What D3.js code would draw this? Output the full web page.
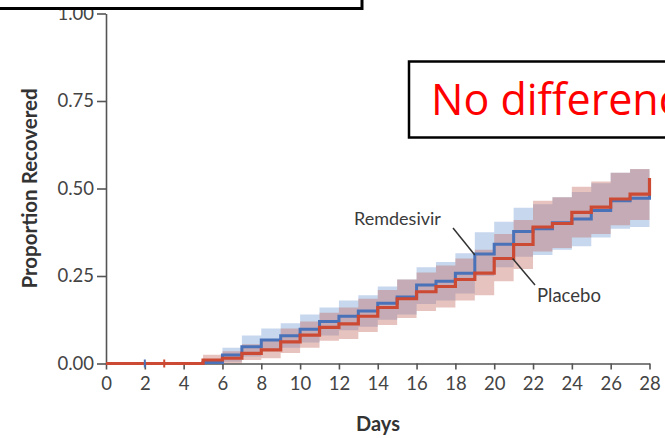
<!DOCTYPE html>
<html><head><meta charset="utf-8">
<script src="https://cdn.jsdelivr.net/npm/d3@7"></script>
<style>
html,body{margin:0;padding:0;background:#fff;overflow:hidden;}
svg{display:block;}
</style></head>
<body>
<svg id="c" width="665" height="438"></svg>
<script>
// ---- data ----
const days = [0,1,2,3,4,5,6,7,8,9,10,11,12,13,14,15,16,17,18,19,20,21,22,23,24,25,26,27];
const remdesivir = [0,0,0,0,0,0.003,0.024,0.048,0.067,0.079,0.098,0.12,0.135,0.15,0.172,0.19,0.224,0.235,0.258,0.313,0.341,0.377,0.385,0.402,0.413,0.437,0.465,0.472];
const remdesivirEnd = 0.50;
const remLower = [0,0,0,0,0,0,0.005,0.02,0.035,0.045,0.06,0.08,0.095,0.105,0.125,0.14,0.17,0.18,0.2,0.25,0.275,0.305,0.31,0.325,0.335,0.36,0.385,0.39];
const remUpper = [0,0,0,0,0,0.012,0.045,0.08,0.1,0.115,0.14,0.16,0.18,0.195,0.22,0.24,0.275,0.29,0.315,0.375,0.405,0.445,0.455,0.475,0.49,0.515,0.545,0.555];
const placebo = [0,0,0,0,0,0.01,0.015,0.029,0.039,0.062,0.081,0.103,0.113,0.135,0.16,0.185,0.205,0.22,0.24,0.258,0.30,0.34,0.39,0.40,0.432,0.447,0.47,0.484];
const placeboEnd = 0.53;
const plaLower = [0,0,0,0,0,0,0,0.01,0.015,0.03,0.045,0.065,0.07,0.09,0.11,0.13,0.15,0.16,0.18,0.195,0.235,0.27,0.32,0.33,0.36,0.37,0.395,0.41];
const plaUpper = [0,0,0,0,0,0.025,0.035,0.055,0.07,0.1,0.12,0.145,0.16,0.185,0.21,0.24,0.26,0.28,0.30,0.325,0.37,0.41,0.465,0.475,0.505,0.52,0.545,0.556];
const remCensor = [2];
const plaCensor = [3];
const xTicks = [0,2,4,6,8,10,12,14,16,18,20,22,24,26,28];
const yTicks = [0,0.25,0.5,0.75,1];
const xTitle = "Days";
const yTitle = "Proportion Recovered";
const seriesNames = ["Remdesivir","Placebo"];
const calloutText = "No difference";

// ---- drawing ----
const svg = d3.select("#c");
const x = d3.scaleLinear().domain([0,28]).range([106,649.5]);
const y = d3.scaleLinear().domain([0,1]).range([363.5,13.5]);
const tickFont = "Lato, 'Open Sans', sans-serif";
const axisColor = "#555";

// bands
function bandData(lo, up){
  const pts = days.map((d,i)=>({d, lo:lo[i], up:up[i]}));
  pts.push({d:28, lo:lo[lo.length-1], up:up[up.length-1]});
  return pts.filter(p=>p.d>=5);
}
const area = d3.area().curve(d3.curveStepAfter)
  .x(p=>x(p.d)).y0(p=>y(p.lo)).y1(p=>y(p.up));
svg.append("path").datum(bandData(remLower, remUpper)).attr("d",area)
  .attr("fill","#b3c9e8").attr("fill-opacity",0.75);
svg.append("path").datum(bandData(plaLower, plaUpper)).attr("d",area)
  .attr("fill","#c0685e").attr("fill-opacity",0.4);

// axes
const yAxis = d3.axisLeft(y).tickValues(yTicks).tickFormat(d3.format(".2f")).tickSize(9).tickSizeOuter(0).tickPadding(3);
const gy = svg.append("g").attr("transform","translate(106,0)").call(yAxis);
const xAxis = d3.axisBottom(x).tickValues(xTicks).tickFormat(d3.format("d")).tickSize(6).tickSizeOuter(0).tickPadding(7);
const gx = svg.append("g").attr("transform","translate(0,363.5)").call(xAxis);
[gx,gy].forEach(g=>{
  g.selectAll("path,line").attr("stroke",axisColor).attr("stroke-width",1.6);
  g.selectAll("text").attr("fill","#444").style("font-family",tickFont).style("font-size","18.5px");
});

// top-left partial box (covers top of the 1.00 label)
svg.append("rect").attr("x",-10).attr("y",-10).attr("width",372).attr("height",18.5)
  .attr("fill","#fff").attr("stroke","#000").attr("stroke-width",3);

// lines
function lineData(vals, endVal){
  const pts = days.map((d,i)=>({d, v:vals[i]}));
  pts.push({d:28, v:vals[vals.length-1]});
  pts.push({d:28, v:endVal});
  return pts;
}
const line = d3.line().curve(d3.curveStepAfter).x(p=>x(p.d)).y(p=>y(p.v));
const blue = "#4a72b8", red = "#cc4a33";
svg.append("path").datum(lineData(remdesivir, remdesivirEnd)).attr("d",line)
  .attr("fill","none").attr("stroke",blue).attr("stroke-width",3);
svg.append("path").datum(lineData(placebo, placeboEnd)).attr("d",line)
  .attr("fill","none").attr("stroke",red).attr("stroke-width",3.2);
// censor marks
svg.selectAll(".cb").data(remCensor).enter().append("line")
  .attr("x1",d=>x(d)).attr("x2",d=>x(d)).attr("y1",y(0)-4).attr("y2",y(0)+4)
  .attr("stroke",blue).attr("stroke-width",2);
svg.selectAll(".cr").data(plaCensor).enter().append("line")
  .attr("x1",d=>x(d)).attr("x2",d=>x(d)).attr("y1",y(0)-4).attr("y2",y(0)+4)
  .attr("stroke",red).attr("stroke-width",2);

// series labels with leaders
svg.append("text").attr("x",354).attr("y",225).text(seriesNames[0])
  .attr("fill","#3a3a3a").style("font-family",tickFont).style("font-size","18px");
svg.append("line").attr("x1",453).attr("y1",228).attr("x2",x(19)).attr("y2",y(remdesivir[19])+1)
  .attr("stroke","#333").attr("stroke-width",1.5);
svg.append("text").attr("x",537).attr("y",302).text(seriesNames[1])
  .attr("fill","#3a3a3a").style("font-family",tickFont).style("font-size","18.5px");
svg.append("line").attr("x1",x(21)-1).attr("y1",y(placebo[20])).attr("x2",535).attr("y2",285)
  .attr("stroke","#333").attr("stroke-width",1.5);

// axis titles
svg.append("text").attr("x",378).attr("y",431).attr("text-anchor","middle").text(xTitle)
  .attr("fill","#333").style("font-family",tickFont).style("font-size","20px").style("font-weight","bold");
svg.append("text").attr("transform",`translate(37,${y(0.5)}) rotate(-90)`).attr("text-anchor","middle").text(yTitle)
  .attr("fill","#333").style("font-family",tickFont).style("font-size","20.5px").style("font-weight","bold");

// callout box
svg.append("rect").attr("x",409).attr("y",61.5).attr("width",300).attr("height",76)
  .attr("fill","#fff").attr("stroke","#000").attr("stroke-width",2.5);
svg.append("text").attr("x",431).attr("y",115).text(calloutText)
  .attr("fill","#ff0000").style("font-family","'Open Sans', sans-serif").style("font-size","43px");
</script>
</body></html>
